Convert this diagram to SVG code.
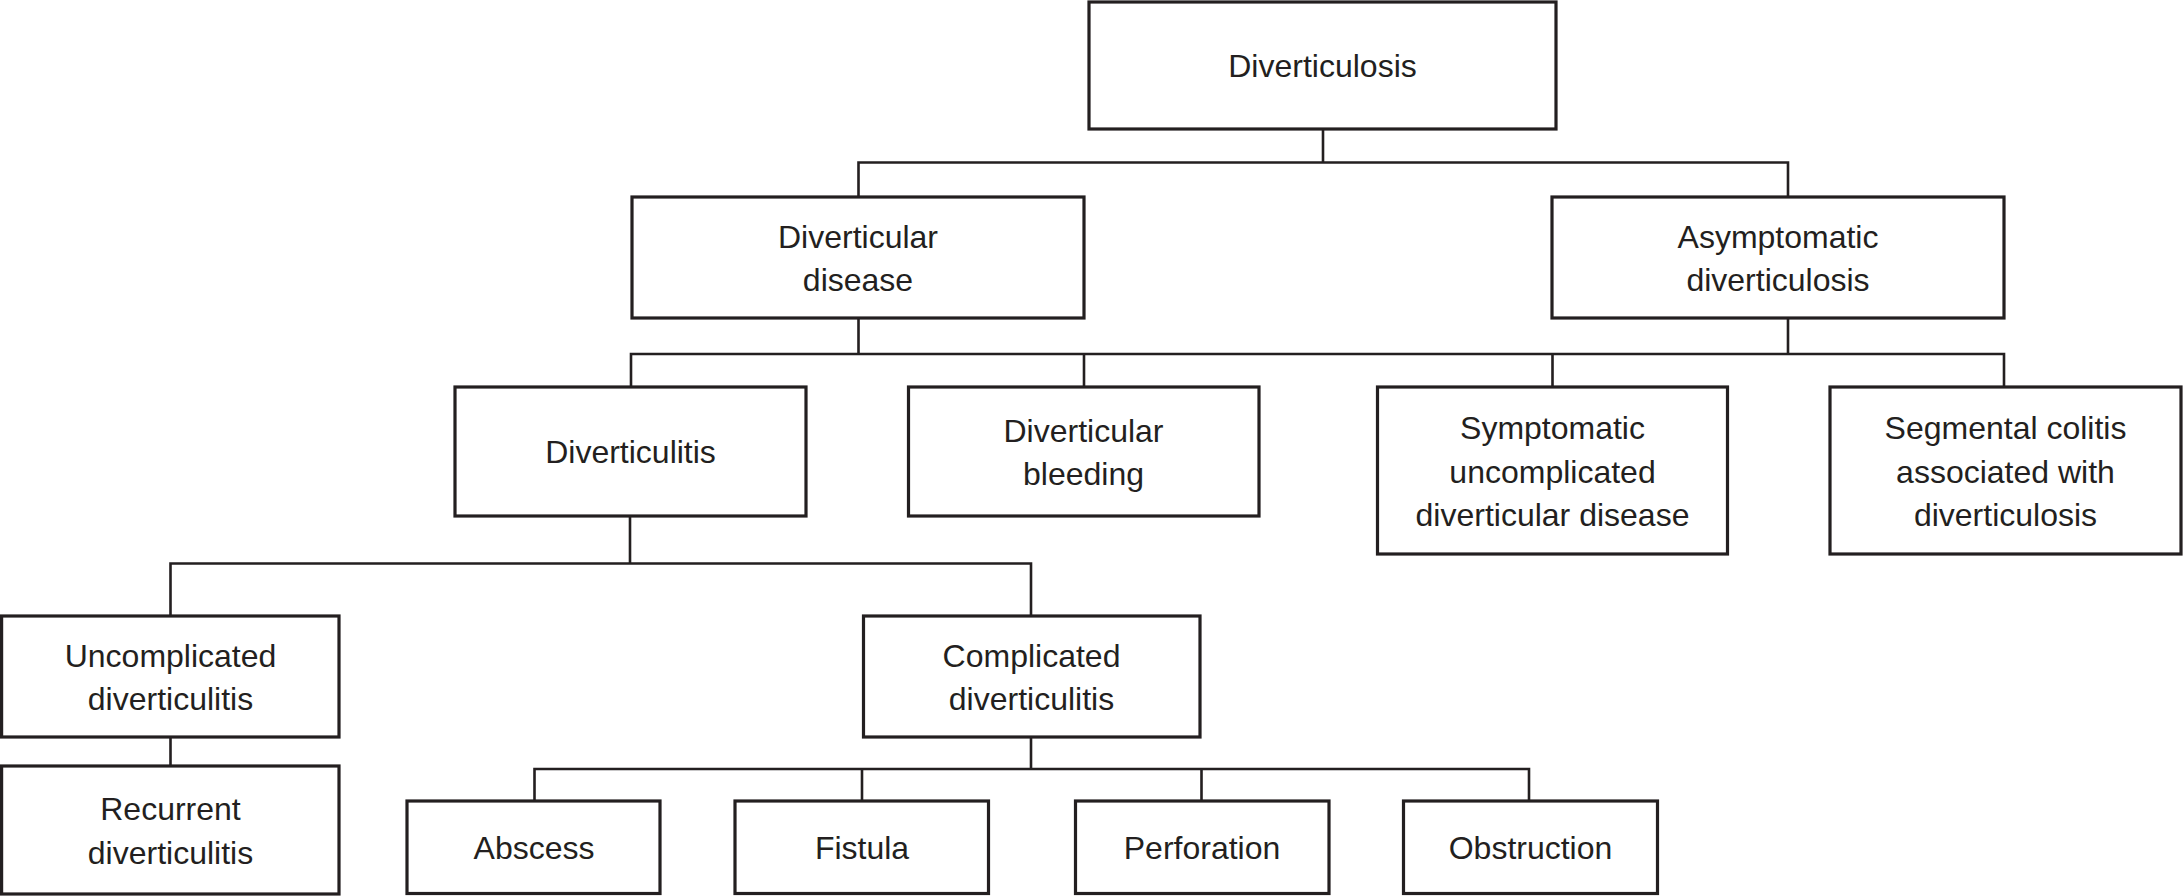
<svg xmlns="http://www.w3.org/2000/svg" width="2183" height="896" viewBox="0 0 2183 896">
<style>
.box{fill:#fff;stroke:#231f20;stroke-width:3.2}
.lbl{font-family:"Liberation Sans",Arial,sans-serif;font-size:32px;fill:#231f20;text-anchor:middle}
.con{fill:none;stroke:#231f20;stroke-width:2.6}
</style>
<rect width="2183" height="896" fill="#fff"/>
<g id="connectors">
<path class="con" d="M1323,129V162.5M858.5,197V162.5H1788V197"/>
<path class="con" d="M858.5,318V354M1788,318V354M631,387V354H2004V387M1084,354V387M1552.5,354V387"/>
<path class="con" d="M630,516V563.5M170.5,616V563.5H1031V616"/>
<path class="con" d="M170.5,737V766"/>
<path class="con" d="M1031,737V769M534.5,801V769H1529V801M862,769V801M1201.5,769V801"/>
</g>
<g id="n-diverticulosis"><rect class="box" x="1089" y="2" width="467" height="127"/><text class="lbl" x="1322.5" y="77">Diverticulosis</text></g>
<g id="n-diverticular-disease"><rect class="box" x="632" y="197" width="452" height="121"/><text class="lbl" x="858" y="248">Diverticular</text><text class="lbl" x="858" y="291">disease</text></g>
<g id="n-asymptomatic"><rect class="box" x="1552" y="197" width="452" height="121"/><text class="lbl" x="1778" y="248">Asymptomatic</text><text class="lbl" x="1778" y="291">diverticulosis</text></g>
<g id="n-diverticulitis"><rect class="box" x="455" y="387" width="351" height="129"/><text class="lbl" x="630.5" y="463">Diverticulitis</text></g>
<g id="n-bleeding"><rect class="box" x="908.5" y="387" width="350.5" height="129"/><text class="lbl" x="1083.5" y="441.5">Diverticular</text><text class="lbl" x="1083.5" y="485">bleeding</text></g>
<g id="n-symptomatic"><rect class="box" x="1377.5" y="387" width="350" height="167"/><text class="lbl" x="1552.5" y="439">Symptomatic</text><text class="lbl" x="1552.5" y="482.5">uncomplicated</text><text class="lbl" x="1552.5" y="526">diverticular disease</text></g>
<g id="n-segmental"><rect class="box" x="1830" y="387" width="351" height="167"/><text class="lbl" x="2005.5" y="439">Segmental colitis</text><text class="lbl" x="2005.5" y="482.5">associated with</text><text class="lbl" x="2005.5" y="526">diverticulosis</text></g>
<g id="n-uncomplicated"><rect class="box" x="1.6" y="616" width="337.4" height="121"/><text class="lbl" x="170.5" y="667">Uncomplicated</text><text class="lbl" x="170.5" y="710">diverticulitis</text></g>
<g id="n-complicated"><rect class="box" x="863.5" y="616" width="336.5" height="121"/><text class="lbl" x="1031.5" y="667">Complicated</text><text class="lbl" x="1031.5" y="710">diverticulitis</text></g>
<g id="n-recurrent"><rect class="box" x="1.6" y="766" width="337.4" height="128"/><text class="lbl" x="170.5" y="820">Recurrent</text><text class="lbl" x="170.5" y="864">diverticulitis</text></g>
<g id="n-abscess"><rect class="box" x="407" y="801" width="253" height="92.5"/><text class="lbl" x="534" y="859">Abscess</text></g>
<g id="n-fistula"><rect class="box" x="735" y="801" width="253.5" height="92.5"/><text class="lbl" x="862" y="859">Fistula</text></g>
<g id="n-perforation"><rect class="box" x="1075.5" y="801" width="253.5" height="92.5"/><text class="lbl" x="1202" y="859">Perforation</text></g>
<g id="n-obstruction"><rect class="box" x="1403.5" y="801" width="254" height="92.5"/><text class="lbl" x="1530.5" y="859">Obstruction</text></g>
</svg>
